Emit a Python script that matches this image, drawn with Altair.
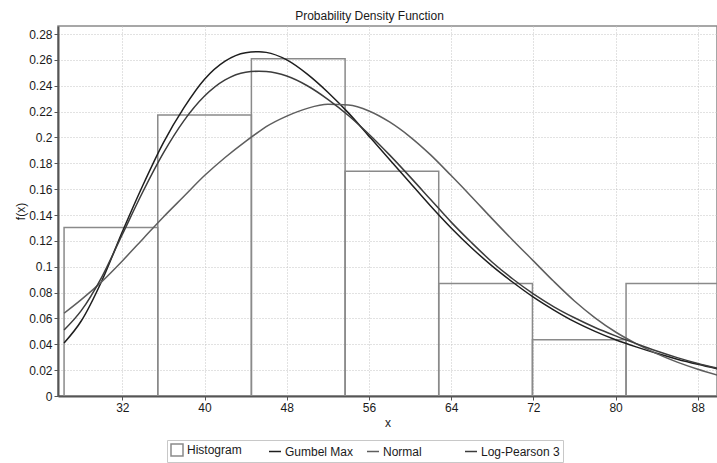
import altair as alt
import pandas as pd

# ---------------- data ----------------
bin_start = [26.33, 35.45, 44.56, 53.68, 62.79, 71.91, 81.02]
bin_end = [35.45, 44.56, 53.68, 62.79, 71.91, 81.02, 90.14]
bin_density = [0.1304, 0.2174, 0.2609, 0.1739, 0.0870, 0.0435, 0.0870]

curve_x = [26.33, 28, 30, 32, 34, 36, 38, 40, 42, 44, 45.3, 46, 48, 50, 52, 54,
           56, 58, 60, 62, 64, 66, 68, 70, 72, 74, 76, 78, 80, 82, 84, 86, 88, 89.9]
gumbel = [0.041, 0.058, 0.089, 0.127, 0.163, 0.196, 0.223, 0.245, 0.259, 0.2655, 0.2663,
          0.2658, 0.260, 0.249, 0.235, 0.219, 0.201, 0.183, 0.165, 0.147, 0.130, 0.1145,
          0.1005, 0.088, 0.0765, 0.0665, 0.0575, 0.050, 0.0435, 0.038, 0.033, 0.0285, 0.0245, 0.021]
lp3 = [0.051, 0.066, 0.092, 0.125, 0.158, 0.188, 0.213, 0.232, 0.2445, 0.2505, 0.2512,
       0.2510, 0.2475, 0.240, 0.2295, 0.217, 0.2025, 0.1865, 0.1695, 0.152, 0.1345, 0.1185,
       0.1035, 0.0905, 0.079, 0.069, 0.0605, 0.053, 0.0465, 0.0405, 0.0348, 0.0297, 0.0252, 0.0215]
normal = [0.064, 0.0745, 0.0885, 0.1045, 0.1215, 0.1385, 0.1545, 0.1705, 0.1845, 0.1970, 0.2045,
          0.2083, 0.2165, 0.2225, 0.2256, 0.2250, 0.2205, 0.2120, 0.2005, 0.1865, 0.1705, 0.1540,
          0.1370, 0.1205, 0.1045, 0.0885, 0.0735, 0.0605, 0.0495, 0.0405, 0.0328, 0.0262, 0.0207, 0.0162]

curve_names = ["Gumbel Max", "Normal", "Log-Pearson 3"]
curve_colors = ["#1e1e1e", "#5e5e5e", "#3c3c3c"]
legend_names = ["Histogram", "Gumbel Max", "Normal", "Log-Pearson 3"]
legend_colors = ["#8a8a8a", "#1e1e1e", "#5e5e5e", "#3c3c3c"]
legend_shapes = ["square", "stroke", "stroke", "stroke"]

x_ticks = [32, 40, 48, 56, 64, 72, 80, 88]
y_ticks = [0, 0.02, 0.04, 0.06, 0.08, 0.1, 0.12, 0.14, 0.16, 0.18, 0.2, 0.22, 0.24, 0.26, 0.28]

# ---------------- tables ----------------
hist_df = pd.DataFrame({"x0": bin_start, "x1": bin_end, "d": bin_density})
curve_df = pd.concat([
    pd.DataFrame({"x": curve_x, "y": gumbel, "series": "Gumbel Max"}),
    pd.DataFrame({"x": curve_x, "y": normal, "series": "Normal"}),
    pd.DataFrame({"x": curve_x, "y": lp3, "series": "Log-Pearson 3"}),
])
legend_df = pd.DataFrame({"series": legend_names})

FONT = "Liberation Sans"
xscale = alt.Scale(domain=[25.74, 89.87], nice=False, zero=False)
yscale = alt.Scale(domain=[0, 0.2862], nice=False, zero=True)

xaxis = alt.Axis(values=x_ticks, title="x", format="d", titlePadding=4, labelOverlap=False)
yaxis = alt.Axis(values=y_ticks, title="f(x)", format="~g", titlePadding=1, labelOverlap=False)

hist = alt.Chart(hist_df).mark_rect(
    fillOpacity=0, stroke="#8a8a8a", strokeWidth=1.5, clip=True
).encode(
    x=alt.X("x0:Q", scale=xscale, axis=xaxis),
    x2="x1:Q",
    y=alt.Y("d:Q", scale=yscale, axis=yaxis),
    y2=alt.datum(0),
)

lines = alt.Chart(curve_df).mark_line(
    strokeWidth=1.5, interpolate="monotone", clip=True
).encode(
    x=alt.X("x:Q", scale=xscale, axis=xaxis),
    y=alt.Y("y:Q", scale=yscale, axis=yaxis),
    color=alt.Color("series:N", scale=alt.Scale(domain=curve_names, range=curve_colors), legend=None),
    detail="series:N",
)

leg = alt.Legend(title=None, orient="none", legendX=109, legendY=414, direction="horizontal",
                 columns=4, gridAlign="all", symbolOpacity=1, symbolSize=144,
                 symbolStrokeWidth=1.5, labelOffset=3, columnPadding=0,
                 strokeColor="#c8c8c8", padding=3, labelFontSize=12, labelFont=FONT,
                 labelColor="#1a1a1a")

legend_layer = alt.Chart(legend_df).mark_point(filled=False, opacity=0).encode(
    stroke=alt.Stroke("series:N", scale=alt.Scale(domain=legend_names, range=legend_colors), legend=leg),
    shape=alt.Shape("series:N", scale=alt.Scale(domain=legend_names, range=legend_shapes), legend=leg),
)

chart = alt.layer(hist, lines, legend_layer).resolve_scale(
    color="independent"
).properties(
    width=659, height=370,
    autosize=alt.AutoSizeParams(type="none"),
    padding={"left": 58, "top": 26, "right": 0, "bottom": 67},
    title=alt.TitleParams("Probability Density Function", fontSize=12, font=FONT,
                          fontWeight="normal", color="#1a1a1a", anchor="middle",
                          frame="group", dx=-18, offset=3),
    background="white",
).configure_view(
    stroke="#8a8a8a", strokeWidth=1.5
).configure_axis(
    labelFont=FONT, labelFontSize=12, labelColor="#1a1a1a",
    titleFont=FONT, titleFontSize=12, titleFontWeight="normal", titleColor="#1a1a1a",
    domainColor="#555555", domainWidth=2, tickColor="#555555", tickSize=4,
    labelPadding=2, gridColor="#c4c4c4", gridDash=[1, 2], gridWidth=1,
)

chart.save("out.html", embed_options={"renderer": "svg", "actions": False})
